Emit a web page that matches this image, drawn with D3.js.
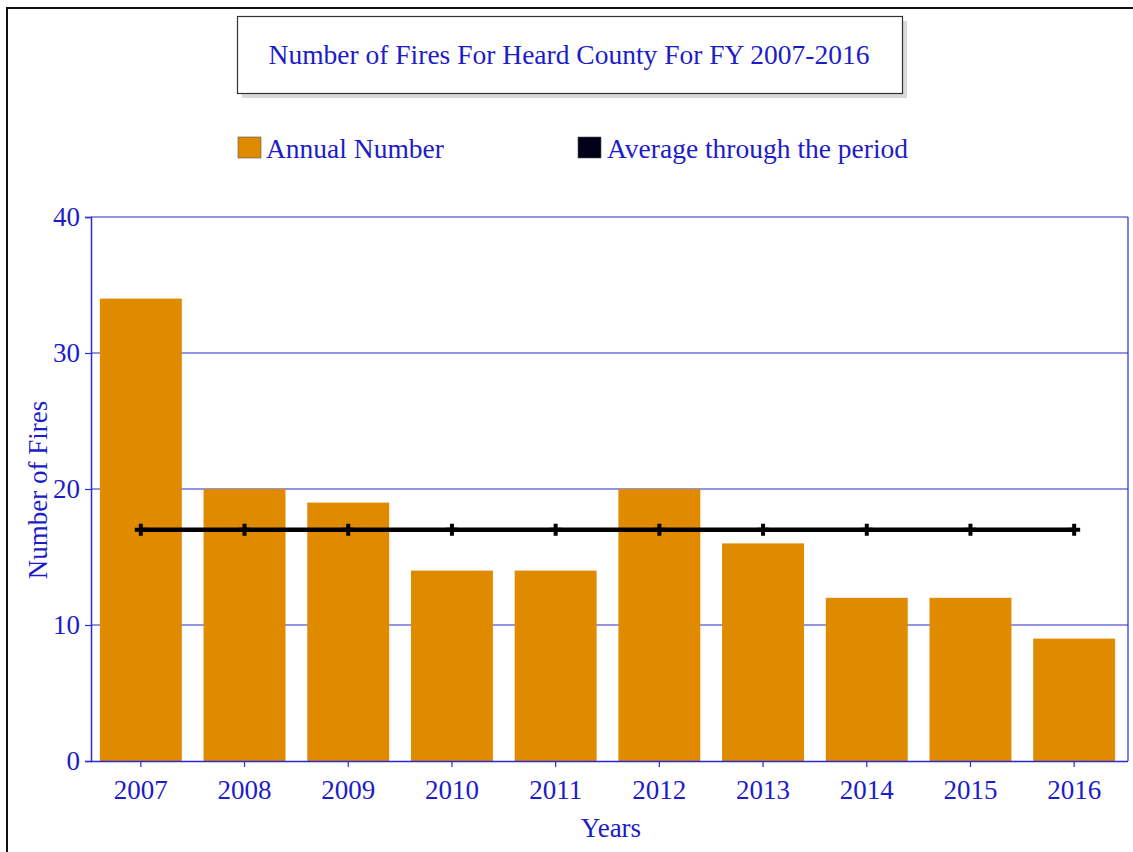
<!DOCTYPE html>
<html><head><meta charset="utf-8">
<script src="https://cdn.jsdelivr.net/npm/d3@7"></script>
<style>body{margin:0;background:#fff}svg{display:block}text{font-family:"Liberation Serif","Times New Roman",serif}</style>
</head><body><svg id="c" width="1133" height="852"></svg>
<script>
const years = ["2007","2008","2009","2010","2011","2012","2013","2014","2015","2016"];
const annual = [34,20,19,14,14,20,16,12,12,9];
const average = [17,17,17,17,17,17,17,17,17,17];
const yTicks = [0,10,20,30,40];
const title = "Number of Fires For Heard County For FY 2007-2016";
const legendLabels = ["Annual Number","Average through the period"];

const svg = d3.select("#c");
const blue = "#1c1cc8", axisBlue = "#2a2ad0", orange = "#e08a00";
const m = {l:91, r:1128, t:217, b:761};
const x = d3.scaleBand().domain(years).range([m.l-1.5, m.r-2.5]).paddingInner(0.21).paddingOuter(0.1);
const y = d3.scaleLinear().domain([0,40]).range([m.b, m.t]);

// outer frame (top & left)
svg.append("path").attr("d","M7,852V8H1133").attr("fill","none").attr("stroke","#111").attr("stroke-width",2);

// title box with shadow
svg.append("rect").attr("x",242).attr("y",21).attr("width",665).attr("height",77).attr("fill","#c8c8c8").attr("opacity",0.7);
svg.append("rect").attr("x",237.5).attr("y",16.5).attr("width",665).attr("height",77).attr("fill","#fff").attr("stroke","#333").attr("stroke-width",1.2);
svg.append("text").attr("x",569).attr("y",64).attr("text-anchor","middle").attr("font-size",27.5).attr("fill",blue).text(title);

// legend
const lg = [{c:orange,x:238,tx:266},{c:"#000018",x:578,tx:607}];
lg.forEach((d,i)=>{
  svg.append("rect").attr("x",d.x).attr("y",137).attr("width",23).attr("height",21).attr("fill",d.c).attr("stroke","#555").attr("stroke-width",0.6);
  svg.append("text").attr("x",d.tx).attr("y",158).attr("font-size",27.5).attr("fill",blue).text(legendLabels[i]);
});

// gridlines
svg.append("g").selectAll("line").data(yTicks.filter(t=>t>0)).join("line")
  .attr("x1",m.l).attr("x2",m.r).attr("y1",d=>y(d)).attr("y2",d=>y(d))
  .attr("stroke",axisBlue).attr("stroke-width",1.2);
// right border
svg.append("line").attr("x1",m.r).attr("x2",m.r).attr("y1",m.t).attr("y2",m.b).attr("stroke",axisBlue).attr("stroke-width",1.2);

// bars
svg.append("g").selectAll("rect").data(annual).join("rect")
  .attr("x",(d,i)=>x(years[i])).attr("width",x.bandwidth())
  .attr("y",d=>y(d)).attr("height",d=>y(0)-y(d)).attr("fill",orange);

// axes
const ya = svg.append("g").attr("transform",`translate(${m.l},0)`)
  .call(d3.axisLeft(y).tickValues(yTicks).tickSize(6).tickPadding(5));
const xa = svg.append("g").attr("transform",`translate(0,${m.b})`)
  .call(d3.axisBottom(x).tickSize(6).tickPadding(12).tickSizeOuter(0));
xa.select(".domain").attr("d",`M${m.l},0.5H${m.r}`);
[ya,xa].forEach(g=>{
  g.select(".domain").attr("stroke",axisBlue).attr("stroke-width",1.5);
  g.selectAll(".tick line").attr("stroke",axisBlue).attr("stroke-width",1.2);
  g.selectAll("text").attr("fill",blue).attr("font-size",27).attr("font-family","Liberation Serif, serif");
});
ya.selectAll(".tick text").attr("dy","0.33em");
xa.selectAll(".tick text").attr("dy","0.75em");

// average line
const line = d3.line().x((d,i)=>x(years[i])+x.bandwidth()/2).y(d=>y(d));
svg.append("path").datum(average).attr("d",line).attr("fill","none").attr("stroke","#000").attr("stroke-width",4.5);
svg.append("g").selectAll("path").data(average).join("path")
  .attr("transform",(d,i)=>`translate(${x(years[i])+x.bandwidth()/2},${y(d)})`)
  .attr("d",d3.symbol(d3.symbolCross,80)).attr("fill","#000");

// axis titles
svg.append("text").attr("x",611).attr("y",837).attr("text-anchor","middle").attr("font-size",27).attr("fill",blue).text("Years");
svg.append("text").attr("transform","translate(47,490) rotate(-90)").attr("text-anchor","middle").attr("font-size",27).attr("fill",blue).text("Number of Fires");
</script></body></html>
